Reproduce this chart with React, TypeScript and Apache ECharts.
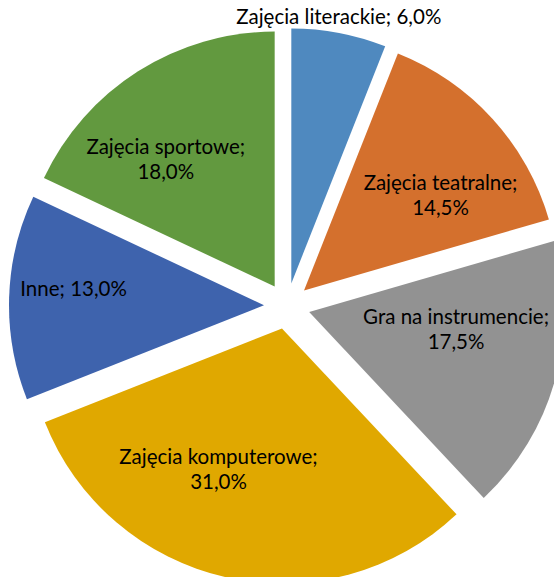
import React, { useEffect, useRef } from "react";
import * as echarts from "echarts";

// Activity categories and their shares (percent)
const categories = [
  "Zajęcia literackie",
  "Zajęcia teatralne",
  "Gra na instrumencie",
  "Zajęcia komputerowe",
  "Inne",
  "Zajęcia sportowe",
];
const shares = [6.0, 14.5, 17.5, 31.0, 13.0, 18.0];
const colors = ["#4F89BF", "#D4702D", "#929292", "#E0A800", "#3E63AD", "#62993F"];

// Label nudges from the default inside position (px)
const labelShift: [number, number][] = [
  [23, -139],
  [40, -8],
  [21, -18],
  [-35, 13],
  [-60, -13],
  [-39, -18],
];
// Labels that stay on a single line
const singleLine = [true, false, false, false, true, false];

const fmt = (v: number) => v.toFixed(1).replace(".", ",") + "%";

export default function App() {
  const ref = useRef<HTMLDivElement>(null);

  useEffect(() => {
    if (!ref.current) return;
    const chart = echarts.init(ref.current, null, { renderer: "svg" });
    chart.setOption({
      animation: false,
      backgroundColor: "#ffffff",
      series: [
        {
          type: "pie",
          center: [287, 306],
          radius: [0, 255],
          startAngle: 90,
          clockwise: true,
          selectedMode: "multiple",
          selectedOffset: 23,
          avoidLabelOverlap: false,
          silent: true,
          label: {
            show: true,
            position: "inside",
            color: "#000000",
            fontFamily: "Lato, 'Open Sans', sans-serif",
            fontSize: 20.5,
            lineHeight: 25,
            align: "center",
            formatter: (p: any) =>
              singleLine[p.dataIndex]
                ? `${p.name}; ${fmt(p.value)}`
                : `${p.name};\n${fmt(p.value)}`,
          },
          labelLine: { show: false },
          labelLayout: (p: any) => ({
            dx: labelShift[p.dataIndex][0],
            dy: labelShift[p.dataIndex][1],
          }),
          itemStyle: { borderWidth: 0 },
          select: { itemStyle: { borderWidth: 0 } },
          emphasis: { disabled: true },
          data: categories.map((name, i) => ({
            name,
            value: shares[i],
            selected: true,
            itemStyle: { color: colors[i] },
            select: { itemStyle: { color: colors[i] } },
          })),
        },
      ],
    });
    return () => chart.dispose();
  }, []);

  return (
    <div
      ref={ref}
      style={{
        position: "fixed",
        left: 0,
        top: 0,
        width: 554,
        height: 577,
        overflow: "hidden",
        background: "#ffffff",
      }}
    />
  );
}
